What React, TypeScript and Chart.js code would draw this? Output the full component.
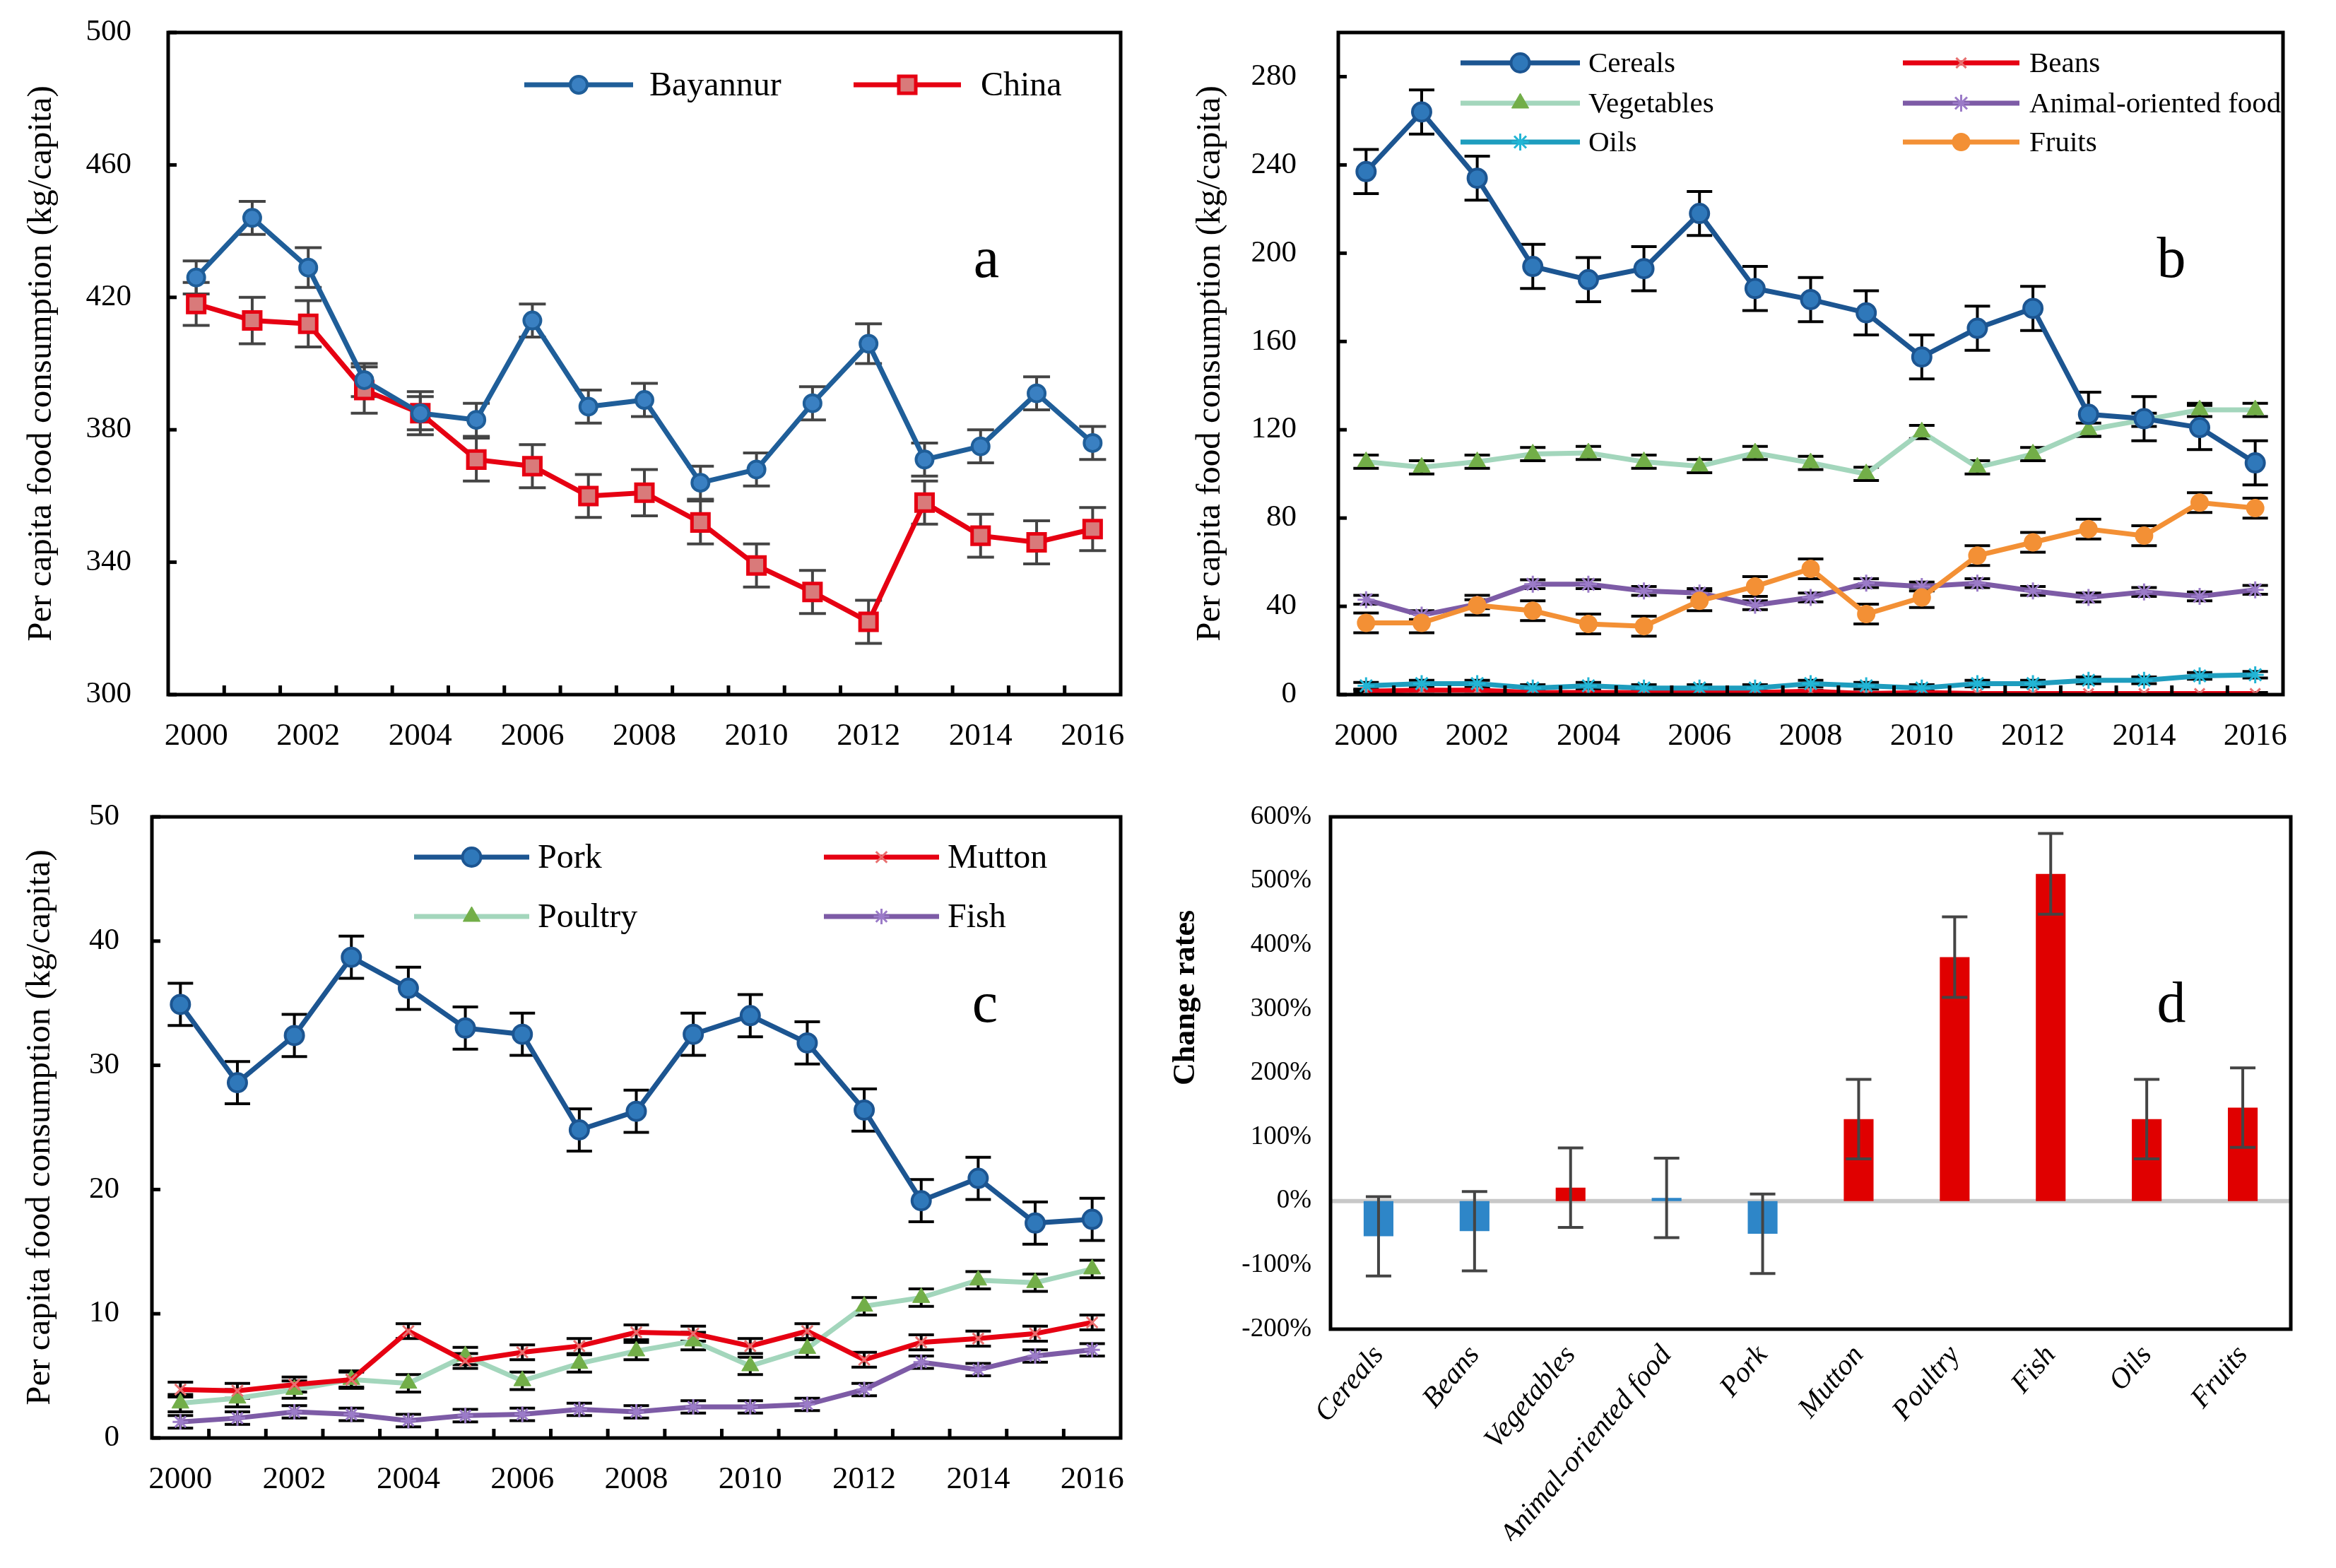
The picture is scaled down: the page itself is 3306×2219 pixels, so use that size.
import React, { useEffect, useRef } from 'react';
import { Chart, registerables } from 'chart.js';

Chart.register(...registerables);

// ---------------- data ----------------
const YEARS = ['2000', '2001', '2002', '2003', '2004', '2005', '2006', '2007', '2008', '2009', '2010', '2011', '2012', '2013', '2014', '2015', '2016'];

// panel a
const BAYANNUR = [426, 444, 429, 395, 385, 383, 413, 387, 389, 364, 368, 388, 406, 371, 375, 391, 376];
const BAYANNUR_ERR = [5, 5, 6, 5, 5, 5, 5, 5, 5, 5, 5, 5, 6, 5, 5, 5, 5];
const CHINA = [418, 413, 412, 392, 385, 371, 369, 360, 361, 352, 339, 331, 322, 358, 348, 346, 350];
const CHINA_ERR = [6.5, 7, 7, 7, 6.5, 6.5, 6.5, 6.5, 7, 6.5, 6.5, 6.5, 6.5, 6.5, 6.5, 6.5, 6.5];

// panel b
const CEREALS = [237, 264, 234, 194, 188, 193, 218, 184, 179, 173, 153, 166, 175, 127, 125, 121, 105];
const CEREALS_ERR = [10, 10, 10, 10, 10, 10, 10, 10, 10, 10, 10, 10, 10, 10, 10, 10, 10];
const VEGETABLES = [105.5, 103, 105.5, 109, 109.5, 105.5, 103.5, 109.5, 105, 100, 119, 103, 109, 120, 124.5, 129, 129];
const VEGETABLES_ERR = [3, 3, 3, 3, 3, 3, 3, 3, 3, 3, 3, 3, 3, 3, 3, 3, 3];
const BEANS = [1.5, 2, 2, 1, 1, 1, 1, 1, 1.5, 0.5, 1, 0.5, 0.5, 0.5, 0.5, 0.5, 0.5];
const BEANS_ERR = [0.5, 0.5, 0.5, 0.5, 0.5, 0.5, 0.5, 0.5, 0.5, 0.5, 0.5, 0.5, 0.5, 0.5, 0.5, 0.5, 0.5];
const ANIMAL = [43, 36, 41, 50, 50, 47, 46, 40.5, 44, 50.5, 49, 50.5, 47, 44, 46.5, 44.5, 47.5];
const ANIMAL_ERR = [2, 2, 2, 2, 2, 2, 2, 2, 2, 2, 2, 2, 2, 2, 2, 2, 2];
const OILS = [4, 5, 5, 3, 4, 3, 3, 3, 5, 4, 3, 5, 5, 6.5, 6.5, 8.5, 9];
const OILS_ERR = [1.5, 1.5, 1.5, 1.5, 1.5, 1.5, 1.5, 1.5, 1.5, 1.5, 1.5, 1.5, 1.5, 1.5, 1.5, 1.5, 1.5];
const FRUITS = [32.5, 32.5, 40.5, 38, 32, 31, 42.5, 49, 57, 36.5, 44, 63, 69, 75, 72, 87, 84.5];
const FRUITS_ERR = [4.5, 4.5, 4.5, 4.5, 4.5, 4.5, 4.5, 4.5, 4.5, 4.5, 4.5, 4.5, 4.5, 4.5, 4.5, 4.5, 4.5];

// panel c
const PORK = [34.9, 28.6, 32.4, 38.7, 36.2, 33.0, 32.5, 24.8, 26.3, 32.5, 34.0, 31.8, 26.4, 19.1, 20.9, 17.3, 17.6];
const PORK_ERR = [1.7, 1.7, 1.7, 1.7, 1.7, 1.7, 1.7, 1.7, 1.7, 1.7, 1.7, 1.7, 1.7, 1.7, 1.7, 1.7, 1.7];
const MUTTON = [3.9, 3.8, 4.3, 4.7, 8.6, 6.2, 6.9, 7.4, 8.5, 8.4, 7.4, 8.6, 6.3, 7.7, 8.0, 8.4, 9.3];
const MUTTON_ERR = [0.6, 0.6, 0.6, 0.6, 0.6, 0.6, 0.6, 0.6, 0.6, 0.6, 0.6, 0.6, 0.6, 0.6, 0.6, 0.6, 0.6];
const POULTRY = [2.8, 3.2, 3.9, 4.7, 4.4, 6.6, 4.6, 6.0, 7.0, 7.8, 5.8, 7.2, 10.6, 11.3, 12.7, 12.5, 13.6];
const POULTRY_ERR = [0.7, 0.7, 0.7, 0.7, 0.7, 0.7, 0.7, 0.7, 0.7, 0.7, 0.7, 0.7, 0.7, 0.7, 0.7, 0.7, 0.7];
const FISH = [1.3, 1.6, 2.1, 1.9, 1.4, 1.8, 1.9, 2.3, 2.1, 2.5, 2.5, 2.7, 3.9, 6.1, 5.5, 6.6, 7.1];
const FISH_ERR = [0.5, 0.5, 0.5, 0.5, 0.5, 0.5, 0.5, 0.5, 0.5, 0.5, 0.5, 0.5, 0.5, 0.5, 0.5, 0.5, 0.5];

// panel d
const CHANGE_CATEGORIES = ['Cereals', 'Beans', 'Vegetables', 'Animal-oriented food', 'Pork', 'Mutton', 'Poultry', 'Fish', 'Oils', 'Fruits'];
const CHANGE_RATES = [-55, -47, 21, 5, -51, 128, 381, 511, 128, 146];
const CHANGE_ERR = [62, 62, 62, 62, 62, 62, 63, 63, 62, 62];
const CHANGE_COLORS = ['#2E86C8', '#2E86C8', '#E00000', '#2E86C8', '#2E86C8', '#E00000', '#E00000', '#E00000', '#E00000', '#E00000'];

// ---------------- styles ----------------
const SERIF = '"Liberation Serif", "Times New Roman", serif';

function drawMarker(ctx: CanvasRenderingContext2D, style: string, x: number, y: number, r: number, bg: string, border: string, bw: number) {
  ctx.save();
  ctx.fillStyle = bg;
  ctx.strokeStyle = border;
  ctx.lineWidth = bw;
  ctx.beginPath();
  if (style === 'circle') {
    ctx.arc(x, y, r, 0, Math.PI * 2);
    ctx.fill();
    if (bw > 0) ctx.stroke();
  } else if (style === 'rect') {
    const s = r * Math.SQRT1_2;
    ctx.rect(x - s, y - s, 2 * s, 2 * s);
    ctx.fill();
    if (bw > 0) ctx.stroke();
  } else if (style === 'triangle') {
    let a = 0;
    ctx.moveTo(x + Math.sin(a) * r, y - Math.cos(a) * r);
    a += (2 * Math.PI) / 3;
    ctx.lineTo(x + Math.sin(a) * r, y - Math.cos(a) * r);
    a += (2 * Math.PI) / 3;
    ctx.lineTo(x + Math.sin(a) * r, y - Math.cos(a) * r);
    ctx.closePath();
    ctx.fill();
    if (bw > 0) ctx.stroke();
  } else if (style === 'crossRot' || style === 'star') {
    const d = Math.cos(Math.PI / 4) * r;
    ctx.moveTo(x - d, y - d);
    ctx.lineTo(x + d, y + d);
    ctx.moveTo(x - d, y + d);
    ctx.lineTo(x + d, y - d);
    if (style === 'star') {
      ctx.moveTo(x, y - r);
      ctx.lineTo(x, y + r);
      ctx.moveTo(x - r, y);
      ctx.lineTo(x + r, y);
    }
    ctx.stroke();
  }
  ctx.restore();
}

function drawErrorBars(chart: any, o: any) {
  const ctx = chart.ctx;
  const ys = chart.scales.y;
  ctx.save();
  ctx.strokeStyle = o.color;
  ctx.lineWidth = o.width;
  chart.data.datasets.forEach((ds: any, i: number) => {
    if (!ds.errors) return;
    const meta = chart.getDatasetMeta(i);
    meta.data.forEach((el: any, j: number) => {
      const v = ds.data[j];
      const e = ds.errors[j];
      const x = el.x;
      const yt = ys.getPixelForValue(v + e);
      const yb = ys.getPixelForValue(v - e);
      ctx.beginPath();
      ctx.moveTo(x, yt);
      ctx.lineTo(x, yb);
      ctx.moveTo(x - o.cap, yt);
      ctx.lineTo(x + o.cap, yt);
      ctx.moveTo(x - o.cap, yb);
      ctx.lineTo(x + o.cap, yb);
      ctx.stroke();
    });
  });
  ctx.restore();
}

const errorBarPlugin = {
  id: 'errbars',
  beforeDatasetsDraw(chart: any, _a: any, o: any) {
    if (o && o.color && !o.after) drawErrorBars(chart, o);
  },
  afterDatasetsDraw(chart: any, _a: any, o: any) {
    if (o && o.color && o.after) drawErrorBars(chart, o);
  },
};

const decoPlugin = {
  id: 'deco',
  beforeDatasetsDraw(chart: any, _a: any, o: any) {
    if (!o || !o.zeroLine) return;
    const { ctx, chartArea: ca } = chart;
    const y = chart.scales.y.getPixelForValue(0);
    ctx.save();
    ctx.strokeStyle = o.zeroLine.color;
    ctx.lineWidth = o.zeroLine.width;
    ctx.beginPath();
    ctx.moveTo(ca.left, y);
    ctx.lineTo(ca.right, y);
    ctx.stroke();
    ctx.restore();
  },
  afterDraw(chart: any, _a: any, o: any) {
    if (!o) return;
    const { ctx, chartArea: ca } = chart;
    ctx.save();
    ctx.strokeStyle = '#000';
    ctx.lineCap = 'butt';
    if (o.yTick) {
      ctx.lineWidth = o.yTick.width;
      const ys = chart.scales.y;
      ys.ticks.forEach((t: any) => {
        const py = ys.getPixelForValue(t.value);
        ctx.beginPath();
        ctx.moveTo(ca.left, py);
        ctx.lineTo(ca.left + o.yTick.len, py);
        ctx.stroke();
      });
    }
    if (o.xTick) {
      ctx.lineWidth = o.xTick.width;
      const n = chart.data.labels.length;
      for (let i = 1; i < n; i++) {
        const px = ca.left + ((ca.right - ca.left) * i) / n;
        ctx.beginPath();
        ctx.moveTo(px, ca.bottom);
        ctx.lineTo(px, ca.bottom - o.xTick.len);
        ctx.stroke();
      }
    }
    ctx.lineWidth = o.frameWidth;
    ctx.strokeRect(ca.left, ca.top, ca.right - ca.left, ca.bottom - ca.top);
    if (o.letter) {
      ctx.fillStyle = '#000';
      ctx.font = `${o.letter.size}px ${SERIF}`;
      ctx.textAlign = 'center';
      ctx.textBaseline = 'alphabetic';
      ctx.fillText(o.letter.text, o.letter.x, o.letter.y);
    }
    if (o.legend) {
      o.legend.items.forEach((it: any) => {
        const ds = chart.data.datasets.find((d: any) => d.label === it.label);
        if (!ds) return;
        ctx.save();
        ctx.strokeStyle = ds.borderColor;
        ctx.lineWidth = ds.borderWidth;
        ctx.beginPath();
        ctx.moveTo(it.x1, it.y);
        ctx.lineTo(it.x2, it.y);
        ctx.stroke();
        ctx.restore();
        drawMarker(ctx, ds.pointStyle, (it.x1 + it.x2) / 2, it.y, ds.pointRadius, ds.pointBackgroundColor, ds.pointBorderColor, ds.pointBorderWidth);
        ctx.fillStyle = '#000';
        ctx.font = `${o.legend.size}px ${SERIF}`;
        ctx.textAlign = 'left';
        ctx.textBaseline = 'middle';
        ctx.fillText(ds.label, it.tx, it.y + 2);
      });
    }
    if (o.sideTitle) {
      ctx.save();
      ctx.translate(o.sideTitle.x, o.sideTitle.y);
      ctx.rotate(-Math.PI / 2);
      ctx.fillStyle = '#000';
      ctx.font = `bold ${o.sideTitle.size}px ${SERIF}`;
      ctx.textAlign = 'center';
      ctx.textBaseline = 'middle';
      ctx.fillText(o.sideTitle.text, 0, 0);
      ctx.restore();
    }
    ctx.restore();
  },
};

const BLUE_LINE = '#1C5591';
const BLUE_FILL = '#2F78BA';
const RED_LINE = '#E60012';
const GREEN_LINE = '#A3D6BC';
const GREEN_MARK = '#72AE48';
const PURPLE_LINE = '#7D5BA6';
const PURPLE_MARK = '#9B7BC8';
const TEAL_LINE = '#1E9DBE';
const TEAL_MARK = '#22B5D5';
const ORANGE = '#F39035';

function lineDs(label: string, data: number[], errors: number[], s: any) {
  return {
    type: 'line',
    label,
    data,
    errors,
    tension: 0,
    borderWidth: 7,
    fill: false,
    ...s,
  };
}

function yearAxis(height: number, padding: number) {
  return {
    type: 'category',
    offset: true,
    grid: { display: false, drawTicks: false },
    border: { display: false },
    ticks: {
      autoSkip: false,
      maxRotation: 0,
      minRotation: 0,
      padding,
      color: '#000',
      font: { family: SERIF, size: 45 },
      callback: (_v: any, i: number) => (i % 2 === 0 ? YEARS[i] : ''),
    },
    afterFit: (s: any) => {
      s.height = height;
    },
  };
}

function valueAxis(min: number, max: number, step: number, width: number, tickPad: number, titlePad: number, includeBounds = true) {
  return {
    min,
    max,
    grid: { display: false, drawTicks: false },
    border: { display: false },
    ticks: { stepSize: step, padding: tickPad, color: '#000', includeBounds, font: { family: SERIF, size: 43 } },
    title: {
      display: true,
      text: 'Per capita food consumption (kg/capita)',
      color: '#000',
      font: { family: SERIF, size: 49 },
      padding: { top: titlePad, bottom: 0 },
    },
    afterFit: (s: any) => {
      s.width = width;
      s.paddingTop = 0;
      s.paddingBottom = 0;
    },
  };
}

function baseOptions(padding: any) {
  return {
    animation: false,
    responsive: false,
    maintainAspectRatio: false,
    devicePixelRatio: 1,
    layout: { padding },
    events: [],
  };
}

function makeA() {
  return {
    type: 'line',
    data: {
      labels: YEARS,
      datasets: [
        lineDs('Bayannur', BAYANNUR, BAYANNUR_ERR, {
          borderColor: '#1F5E99',
          pointStyle: 'circle',
          pointRadius: 12,
          pointBackgroundColor: '#3A80C2',
          pointBorderColor: '#1F5E99',
          pointBorderWidth: 4,
          order: 1,
        }),
        lineDs('China', CHINA, CHINA_ERR, {
          borderColor: RED_LINE,
          pointStyle: 'rect',
          pointRadius: 17,
          pointBackgroundColor: '#D97A7A',
          pointBorderColor: RED_LINE,
          pointBorderWidth: 5,
          order: 2,
        }),
      ],
    },
    options: {
      ...baseOptions({ top: 46, right: 67, bottom: 17, left: 0 }),
      plugins: {
        legend: { display: false },
        tooltip: { enabled: false },
        errbars: { color: '#444444', width: 4, cap: 19 },
        deco: {
          frameWidth: 5,
          yTick: { len: 12, width: 5 },
          xTick: { len: 13, width: 5 },
          letter: { text: 'a', x: 1396, y: 392, size: 82 },
          legend: {
            size: 48,
            items: [
              { label: 'Bayannur', x1: 742, x2: 896, y: 120, tx: 919 },
              { label: 'China', x1: 1208, x2: 1360, y: 120, tx: 1388 },
            ],
          },
        },
      },
      scales: {
        x: yearAxis(100, 32),
        y: valueAxis(300, 500, 40, 238, 52, 30),
      },
    },
    plugins: [errorBarPlugin, decoPlugin],
  };
}

function makeB() {
  return {
    type: 'line',
    data: {
      labels: YEARS,
      datasets: [
        lineDs('Cereals', CEREALS, CEREALS_ERR, {
          borderColor: BLUE_LINE,
          pointStyle: 'circle',
          pointRadius: 13,
          pointBackgroundColor: BLUE_FILL,
          pointBorderColor: BLUE_LINE,
          pointBorderWidth: 4,
          order: 1,
        }),
        lineDs('Beans', BEANS, BEANS_ERR, {
          borderColor: RED_LINE,
          pointStyle: 'crossRot',
          pointRadius: 10,
          pointBackgroundColor: '#E87070',
          pointBorderColor: '#E87070',
          pointBorderWidth: 3,
          order: 6,
        }),
        lineDs('Vegetables', VEGETABLES, VEGETABLES_ERR, {
          borderColor: GREEN_LINE,
          pointStyle: 'triangle',
          pointRadius: 14,
          pointBackgroundColor: GREEN_MARK,
          pointBorderColor: GREEN_MARK,
          pointBorderWidth: 1,
          order: 2,
        }),
        lineDs('Animal-oriented food', ANIMAL, ANIMAL_ERR, {
          borderColor: PURPLE_LINE,
          pointStyle: 'star',
          pointRadius: 12,
          pointBackgroundColor: PURPLE_MARK,
          pointBorderColor: PURPLE_MARK,
          pointBorderWidth: 3,
          order: 4,
        }),
        lineDs('Oils', OILS, OILS_ERR, {
          borderColor: TEAL_LINE,
          pointStyle: 'star',
          pointRadius: 12,
          pointBackgroundColor: TEAL_MARK,
          pointBorderColor: TEAL_MARK,
          pointBorderWidth: 3,
          order: 5,
        }),
        lineDs('Fruits', FRUITS, FRUITS_ERR, {
          borderColor: ORANGE,
          pointStyle: 'circle',
          pointRadius: 12,
          pointBackgroundColor: ORANGE,
          pointBorderColor: ORANGE,
          pointBorderWidth: 2,
          order: 3,
        }),
      ],
    },
    options: {
      ...baseOptions({ top: 46, right: 75, bottom: 17, left: 0 }),
      plugins: {
        legend: { display: false },
        tooltip: { enabled: false },
        errbars: { color: '#000000', width: 4, cap: 18 },
        deco: {
          frameWidth: 5,
          yTick: { len: 12, width: 5 },
          xTick: { len: 13, width: 5 },
          letter: { text: 'b', x: 1420, y: 392, size: 82 },
          legend: {
            size: 41,
            items: [
              { label: 'Cereals', x1: 414, x2: 583, y: 89, tx: 595 },
              { label: 'Beans', x1: 1040, x2: 1205, y: 89, tx: 1219 },
              { label: 'Vegetables', x1: 414, x2: 583, y: 146, tx: 595 },
              { label: 'Animal-oriented food', x1: 1040, x2: 1205, y: 146, tx: 1219 },
              { label: 'Oils', x1: 414, x2: 583, y: 201, tx: 595 },
              { label: 'Fruits', x1: 1040, x2: 1205, y: 201, tx: 1219 },
            ],
          },
        },
      },
      scales: {
        x: yearAxis(100, 32),
        y: valueAxis(0, 300, 40, 241, 59, 31, false),
      },
    },
    plugins: [errorBarPlugin, decoPlugin],
  };
}

function makeC() {
  return {
    type: 'line',
    data: {
      labels: YEARS,
      datasets: [
        lineDs('Pork', PORK, PORK_ERR, {
          borderColor: BLUE_LINE,
          pointStyle: 'circle',
          pointRadius: 13,
          pointBackgroundColor: BLUE_FILL,
          pointBorderColor: BLUE_LINE,
          pointBorderWidth: 4,
          order: 1,
        }),
        lineDs('Mutton', MUTTON, MUTTON_ERR, {
          borderColor: RED_LINE,
          pointStyle: 'crossRot',
          pointRadius: 11,
          pointBackgroundColor: '#E87070',
          pointBorderColor: '#E87070',
          pointBorderWidth: 3,
          order: 2,
        }),
        lineDs('Poultry', POULTRY, POULTRY_ERR, {
          borderColor: GREEN_LINE,
          pointStyle: 'triangle',
          pointRadius: 14,
          pointBackgroundColor: GREEN_MARK,
          pointBorderColor: GREEN_MARK,
          pointBorderWidth: 1,
          order: 3,
        }),
        lineDs('Fish', FISH, FISH_ERR, {
          borderColor: PURPLE_LINE,
          pointStyle: 'star',
          pointRadius: 11,
          pointBackgroundColor: PURPLE_MARK,
          pointBorderColor: PURPLE_MARK,
          pointBorderWidth: 3,
          order: 4,
        }),
      ],
    },
    options: {
      ...baseOptions({ top: 56, right: 67, bottom: 84, left: 0 }),
      plugins: {
        legend: { display: false },
        tooltip: { enabled: false },
        errbars: { color: '#000000', width: 4, cap: 18 },
        deco: {
          frameWidth: 5,
          yTick: { len: 12, width: 5 },
          xTick: { len: 13, width: 5 },
          letter: { text: 'c', x: 1394, y: 346, size: 82 },
          legend: {
            size: 48,
            items: [
              { label: 'Pork', x1: 586, x2: 749, y: 113, tx: 761 },
              { label: 'Mutton', x1: 1166, x2: 1329, y: 113, tx: 1341 },
              { label: 'Poultry', x1: 586, x2: 749, y: 197, tx: 761 },
              { label: 'Fish', x1: 1166, x2: 1329, y: 197, tx: 1341 },
            ],
          },
        },
      },
      scales: {
        x: yearAxis(100, 32),
        y: valueAxis(0, 50, 10, 215, 46, 28),
      },
    },
    plugins: [errorBarPlugin, decoPlugin],
  };
}

function makeD() {
  return {
    type: 'bar',
    data: {
      labels: CHANGE_CATEGORIES,
      datasets: [
        {
          label: 'Change rates',
          data: CHANGE_RATES,
          errors: CHANGE_ERR,
          backgroundColor: CHANGE_COLORS,
          borderWidth: 0,
          barPercentage: 0.31,
          categoryPercentage: 1,
        },
      ],
    },
    options: {
      ...baseOptions({ top: 56, right: 64, bottom: 38, left: 0 }),
      plugins: {
        legend: { display: false },
        tooltip: { enabled: false },
        errbars: { color: '#444444', width: 4, cap: 18, after: true },
        deco: {
          frameWidth: 5,
          zeroLine: { color: '#C8C8C8', width: 6 },
          letter: { text: 'd', x: 1420, y: 346, size: 82 },
          sideTitle: { text: 'Change rates', x: 26, y: 312, size: 44 },
        },
      },
      scales: {
        x: {
          type: 'category',
          offset: true,
          grid: { display: false, drawTicks: false },
          border: { display: false },
          ticks: {
            autoSkip: false,
            maxRotation: 50,
            minRotation: 50,
            padding: 14,
            color: '#000',
            font: { family: SERIF, size: 41, style: 'italic' },
          },
          afterFit: (s: any) => {
            s.height = 300;
          },
        },
        y: {
          min: -200,
          max: 600,
          grid: { display: false, drawTicks: false },
          border: { display: false },
          ticks: {
            stepSize: 100,
            padding: 27,
            color: '#000',
            font: { family: SERIF, size: 37 },
            callback: (v: any) => `${v}%`,
          },
          afterFit: (s: any) => {
            s.width = 230;
            s.paddingTop = 0;
            s.paddingBottom = 0;
          },
        },
      },
    },
    plugins: [errorBarPlugin, decoPlugin],
  };
}

function Panel({ x, y, w, h, make }: { x: number; y: number; w: number; h: number; make: () => any }) {
  const ref = useRef<HTMLCanvasElement>(null);
  useEffect(() => {
    const chart = new Chart(ref.current as HTMLCanvasElement, make());
    return () => chart.destroy();
  }, []);
  return (
    <canvas
      ref={ref}
      width={w}
      height={h}
      style={{ position: 'absolute', left: x, top: y, width: w, height: h, display: 'block' }}
    />
  );
}

export default function App() {
  useEffect(() => {
    document.body.style.margin = '0';
    document.body.style.background = '#ffffff';
  }, []);
  return (
    <div style={{ position: 'absolute', left: 0, top: 0, width: 3306, height: 2219, background: '#ffffff', overflow: 'hidden' }}>
      <Panel x={0} y={0} w={1653} h={1100} make={makeA} />
      <Panel x={1653} y={0} w={1653} h={1100} make={makeB} />
      <Panel x={0} y={1100} w={1653} h={1119} make={makeC} />
      <Panel x={1653} y={1100} w={1653} h={1119} make={makeD} />
    </div>
  );
}
